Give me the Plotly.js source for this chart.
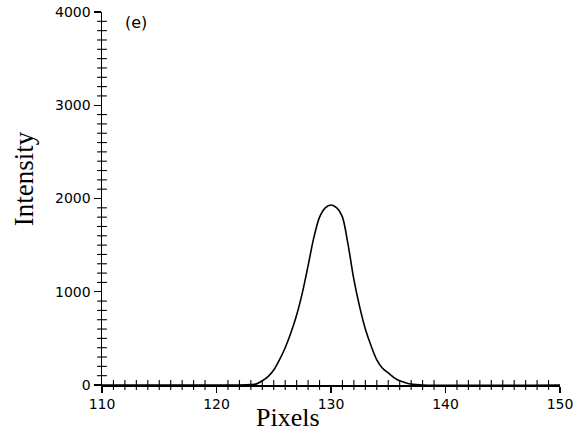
<!DOCTYPE html>
<html>
<head>
<meta charset="utf-8">
<script src="https://cdn.plot.ly/plotly-3.0.1.min.js"></script>
<style>html,body{margin:0;padding:0;background:#fff;}#chart{width:574px;height:437px;}</style>
</head>
<body>
<div id="chart"></div>
<script>
const pixels = [110, 122, 123, 123.5, 124, 124.5, 125, 125.5, 126, 126.5, 127, 127.5, 128, 128.5, 129, 129.5, 130, 130.5, 131, 131.5, 132, 132.5, 133, 133.5, 134, 134.5, 135, 135.5, 136, 136.5, 137, 138, 150];
const intensity = [0, 0, 5, 12, 45, 90, 160, 270, 400, 560, 750, 990, 1280, 1580, 1800, 1900, 1930, 1900, 1800, 1500, 1130, 840, 600, 420, 270, 180, 130, 80, 45, 25, 10, 0, 0];
const xTicks = [110, 120, 130, 140, 150];
const yTicks = [0, 1000, 2000, 3000, 4000];
const xRange = [110, 150];
const yRange = [0, 4000];
const xMinorStep = 1;
const yMinorStep = 100;
const panelLabel = "(e)";
const xTitle = "Pixels";
const yTitle = "Intensity";

// minor tick positions derived from the axis ranges (axis decoration)
const xMinor = [];
for (let v = xRange[0]; v <= xRange[1]; v += xMinorStep) if (!xTicks.includes(v)) xMinor.push(v);
const yMinor = [];
for (let v = yRange[0]; v <= yRange[1]; v += yMinorStep) if (!yTicks.includes(v)) yMinor.push(v);

const trace = {
  x: pixels, y: intensity, type: 'scatter', mode: 'lines',
  line: {color: '#000', width: 1.6, shape: 'spline', smoothing: 0.8},
  hoverinfo: 'skip'
};
const xMinorTicks = {
  x: xMinor, y: xMinor.map(() => yRange[0]), type: 'scatter', mode: 'markers', cliponaxis: false,
  marker: {symbol: 'line-ns', size: 7, line: {color: '#000', width: 1.1}}, hoverinfo: 'skip'
};
const yMinorTicks = {
  x: yMinor.map(() => xRange[0]), y: yMinor, type: 'scatter', mode: 'markers', cliponaxis: false,
  marker: {symbol: 'line-ew', size: 7, line: {color: '#000', width: 1.1}}, hoverinfo: 'skip'
};

const layout = {
  width: 574, height: 437,
  margin: {l: 102, r: 14, t: 12, b: 52},
  paper_bgcolor: '#fff', plot_bgcolor: '#fff',
  showlegend: false,
  xaxis: {
    range: xRange, tickmode: 'array', tickvals: xTicks, ticktext: xTicks.map(String),
    showgrid: false, zeroline: false, showline: true, linecolor: '#000', linewidth: 1.5,
    ticks: 'outside', ticklen: 6, tickwidth: 1.3, tickcolor: '#000',
    tickfont: {family: 'DejaVu Sans', size: 14, color: '#000'}
  },
  yaxis: {
    range: yRange, tickmode: 'array', tickvals: yTicks, ticktext: yTicks.map(String),
    showgrid: false, zeroline: false, showline: true, linecolor: '#000', linewidth: 1.5,
    ticks: 'outside', ticklen: 7, tickwidth: 1.3, tickcolor: '#000',
    tickfont: {family: 'DejaVu Sans', size: 14, color: '#000'}
  },
  annotations: [
    {text: panelLabel, xref: 'paper', yref: 'paper', x: 0.046, y: 0.973,
     xanchor: 'left', yanchor: 'middle', showarrow: false,
     font: {family: 'DejaVu Sans', size: 16, color: '#000'}},
    {text: xTitle, xref: 'paper', yref: 'paper', x: 0.406, y: -0.088,
     xanchor: 'center', yanchor: 'middle', showarrow: false,
     font: {family: 'Liberation Serif', size: 26, color: '#000'}},
    {text: yTitle, xref: 'paper', yref: 'paper', x: -0.17, y: 0.552,
     xanchor: 'center', yanchor: 'middle', textangle: -90, showarrow: false,
     font: {family: 'Liberation Serif', size: 27, color: '#000'}}
  ]
};

Plotly.newPlot('chart', [trace, xMinorTicks, yMinorTicks], layout, {displayModeBar: false, staticPlot: true});
</script>
</body>
</html>
